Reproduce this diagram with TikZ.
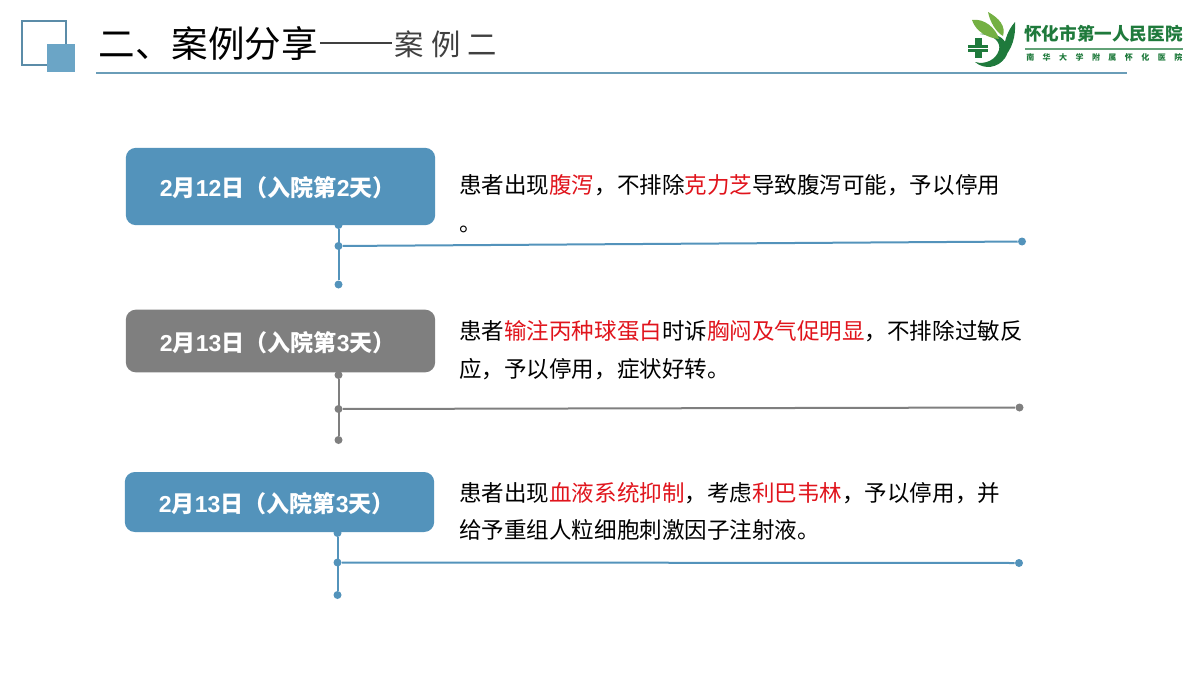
\documentclass[tikz,border=0pt]{standalone}
\usepackage{fontspec}
\usepackage{xcolor}
\setmainfont{Noto Sans CJK SC}
\newfontfamily\latf{Liberation Sans}
\usetikzlibrary{positioning}
\definecolor{boxblue}{HTML}{5393BB}
\definecolor{boxgray}{HTML}{7F7F7F}
\definecolor{headblue}{HTML}{6BA5C6}
\definecolor{ruleblue}{HTML}{6A9DB8}
\definecolor{txtred}{HTML}{E0141C}
\definecolor{logodark}{HTML}{1F7A3C}
\definecolor{logolight}{HTML}{74B043}
\newcommand{\hot}[1]{\textcolor{txtred}{#1}}
\newcommand{\daytext}[3]{{\latf 2}月{\latf #1}日（入院第{\latf #2}天）\hspace*{#3}}
\tikzset{
	datebox/.style={rounded corners=7.5pt,inner sep=0pt,text=white,text height=15.5pt,text depth=0pt,font=\fontsize{17.3}{18}\selectfont\bfseries},
	dot/.style={circle,inner sep=0pt,minimum size=6pt},
	desc/.style={anchor=west,inner sep=0pt,font=\fontsize{16.9}{20}\selectfont},
	link/.style={line width=1.5pt},
}
\begin{document}
\begin{tikzpicture}[x=0.75pt,y=-0.75pt]
		\useasboundingbox (0,0) rectangle (1200,675);
		% header
		\draw[headblue!85!black,line width=1.2pt] (22,21) rectangle (66,65);
		\fill[headblue] (47,44) rectangle (75,72);
		\node[anchor=west,inner sep=0pt,font=\fontsize{27.4}{30}\selectfont] (title) at (98.5,44) {二、案例分享};
		\node[anchor=west,inner sep=0pt,text=black!75,font=\fontsize{22}{24}\selectfont] (subtitle) at (394,44) {案\hspace{5.6pt}例\hspace{5.6pt}二};
		\draw[black!75,line width=0.8pt] (320,43) -- (392,43);
		\draw[ruleblue,line width=1.3pt] (96,73) -- (1127,73);
		% logo
		\fill[logodark] (980,34) .. controls (1000,30) and (1014,45) .. (1005,58) .. controls (998,68) and (984,70) .. (975,62) .. controls (985,65) and (996,60) .. (999,50) .. controls (1001,42) and (994,35) .. (980,34);
		\fill[logodark] (1015,22) .. controls (1016,36) and (1012,50) .. (1003,58) .. controls (1003,46) and (1006,32) .. (1015,22);
		\fill[logolight] (972,20) .. controls (984,18) and (996,28) .. (999,39) .. controls (988,38) and (976,32) .. (972,20);
		\fill[logolight] (988,12) .. controls (999,18) and (1006,26) .. (1003,36) .. controls (996,32) and (990,22) .. (988,12);
		\fill[logodark] (975,38) rectangle (982,58);
		\fill[logodark] (968,45) rectangle (988,52);
		\draw[white,line width=0.5pt] (968,48.5) -- (988,48.5);
		\node[anchor=west,inner sep=0pt,text=logodark,font=\fontsize{13.2}{15}\selectfont\bfseries] (logoname) at (1024,34) {怀化市第一人民医院};
		\draw[logodark!70,line width=1pt] (1025,49) -- (1183,49);
		\node[anchor=west,inner sep=0pt,text=logodark,font=\fontsize{6}{7}\selectfont\bfseries] (logosub) at (1026,57) {\makebox[117pt][s]{南\hfill 华\hfill 大\hfill 学\hfill 附\hfill 属\hfill 怀\hfill 化\hfill 医\hfill 院}};
		% first row
		\node[dot,fill=boxblue] (a1) at (338.5,225) {};
		\node[dot,fill=boxblue] (a2) at (338.5,246) {};
		\node[dot,fill=boxblue] (a3) at (338.5,284.5) {};
		\node[dot,fill=boxblue] (a4) at (1022,241.5) {};
		\draw[boxblue,link] (a1) -- (a3);
		\draw[boxblue,link] (a2) -- (a4);
		\node[datebox,fill=boxblue,minimum width=232pt,minimum height=58pt] (day1) at (280.5,186.5) {\daytext{12}{2}{4pt}};
		\node[desc] (text1a) at (459,185) {患者出现\hot{腹泻}，不排除\hot{克力芝}导致腹泻可能，予以停用};
		\node[desc] (text1b) at (459,229) {。};
		% second row
		\node[dot,fill=boxgray] (b1) at (338.5,375) {};
		\node[dot,fill=boxgray] (b2) at (338.5,409) {};
		\node[dot,fill=boxgray] (b3) at (338.5,440) {};
		\node[dot,fill=boxgray] (b4) at (1019.5,407.5) {};
		\draw[boxgray,link] (b1) -- (b3);
		\draw[boxgray,link] (b2) -- (b4);
		\node[datebox,fill=boxgray,minimum width=232pt,minimum height=47pt] (day2) at (280.5,341) {\daytext{13}{3}{4pt}};
		\node[desc] (text2a) at (459,331) {患者\hot{输注丙种球蛋白}时诉\hot{胸闷及气促明显}，不排除过敏反};
		\node[desc] (text2b) at (459,369) {应，予以停用，症状好转。};
		% third row
		\node[dot,fill=boxblue] (c1) at (337.5,533) {};
		\node[dot,fill=boxblue] (c2) at (337.5,562.5) {};
		\node[dot,fill=boxblue] (c3) at (337.5,595) {};
		\node[dot,fill=boxblue] (c4) at (1019,563) {};
		\draw[boxblue,link] (c1) -- (c3);
		\draw[boxblue,link] (c2) -- (c4);
		\node[datebox,fill=boxblue,minimum width=232pt,minimum height=45pt] (day3) at (279.5,502) {\daytext{13}{3}{4pt}};
		\node[desc] (text3a) at (459,493) {患者出现\hot{血液系统抑制}，考虑\hot{利巴韦林}，予以停用，并};
		\node[desc] (text3b) at (459,530) {给予重组人粒细胞刺激因子注射液。};
	\end{tikzpicture}
\end{document}
